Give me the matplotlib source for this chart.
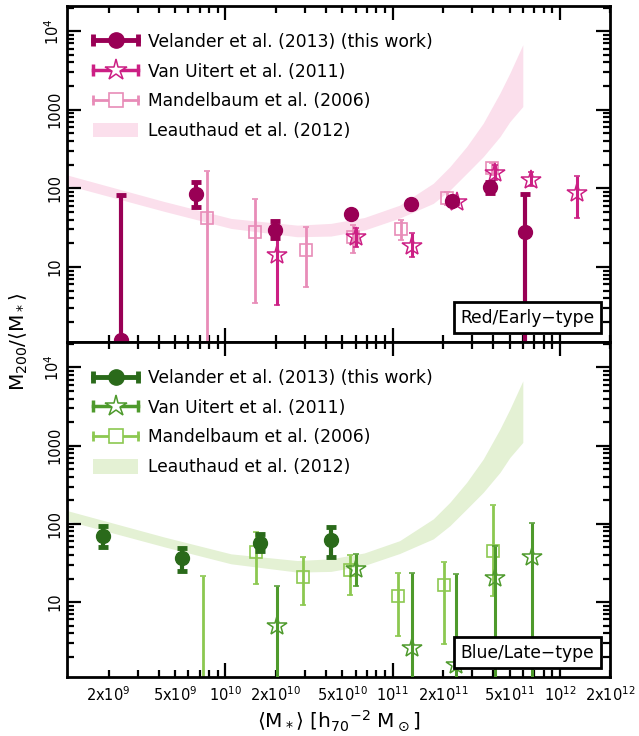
import numpy as np
import matplotlib
matplotlib.use('Agg')
import matplotlib.pyplot as plt
from matplotlib.lines import Line2D
from matplotlib.patches import Patch
from matplotlib.legend_handler import HandlerLine2D, HandlerTuple
from matplotlib.ticker import FuncFormatter, LogLocator, NullFormatter

# Leauthaud et al. (2012) band (same in both panels)
band_x = [1.13e9, 4.3e9, 1.08e10, 2.69e10, 4.27e10, 6.76e10, 1.1e11, 1.75e11,
          2.2e11, 2.77e11, 3.48e11, 4.38e11, 5.02e11, 6.0e11]
band_hi = [148, 68, 41.4, 34, 35.8, 42.5, 61, 116, 189, 340, 675, 1630, 2925, 6730]
band_lo = [110, 51, 30.9, 24.2, 24.7, 29.4, 41.8, 64.4, 95, 155, 253, 455, 706, 1100]

# ---- red / early-type ----
red_vel_x = [2.39e9, 6.64e9, 1.98e10, 5.66e10, 1.29e11, 2.25e11, 3.82e11, 6.18e11]
red_vel_y = [1.16, 84.6, 29.4, 47, 62.5, 69.5, 103, 27.9]
red_vel_lo = [0.3, 58, 23, 43, 58, 64, 86, 0.3]
red_vel_hi = [82, 119, 38.6, 51, 67, 76, 121, 84.6]

red_vu_x = [2.04e10, 6.07e10, 1.31e11, 2.42e11, 4.08e11, 6.76e11, 1.26e12]
red_vu_y = [14.1, 24.2, 18.4, 67.5, 158, 128, 86.4]
red_vu_lo = [3.3, 18, 13.4, 62, 128, 107, 41.4]
red_vu_hi = [24, 30.9, 26.7, 74, 198, 163, 144]

red_man_x = [7.73e9, 1.5e10, 3.02e10, 5.77e10, 1.12e11, 2.1e11, 3.91e11]
red_man_y = [41.4, 27.9, 16.3, 23.7, 30.3, 74.6, 180]
red_man_lo = [0.3, 3.47, 5.56, 15.1, 21.9, 61, 148]
red_man_hi = [168, 72.4, 31.8, 34, 39.5, 90.6, 208]

# ---- blue / late-type ----
blue_vel_x = [1.84e9, 5.52e9, 1.61e10, 4.27e10]
blue_vel_y = [71, 36.8, 57.3, 62.5]
blue_vel_lo = [51, 24.9, 44.8, 38.3]
blue_vel_hi = [95, 49.4, 74.5, 90.6]

blue_vu_x = [2.04e10, 6.04e10, 1.31e11, 2.39e11, 4.08e11, 6.82e11]
blue_vu_y = [4.9, 26.7, 2.62, 1.56, 20.2, 38.3]
blue_vu_lo = [0.3, 16.3, 0.3, 0.3, 0.3, 0.3]
blue_vu_hi = [16.3, 41.4, 23.4, 23, 52.9, 102]

blue_man_x = [7.38e9, 1.52e10, 2.91e10, 5.53e10, 1.08e11, 2.04e11, 3.99e11]
blue_man_y = [0.5, 43.4, 20.8, 25.4, 11.9, 16.7, 44.7]
blue_man_lo = [0.2, 17.2, 9.1, 12.4, 3.66, 2.88, 12]
blue_man_hi = [21.3, 78, 37.5, 39.5, 23.4, 33, 176]

labels = ['Velander et al. (2013) (this work)', 'Van Uitert et al. (2011)',
          'Mandelbaum et al. (2006)', 'Leauthaud et al. (2012)']

red_cols = ['#990055', '#cc1f84', '#e88cb8', '#fbdfec']
blue_cols = ['#2a6a1a', '#4e9a2c', '#8cc850', '#e4f1d4']

plt.rcParams['font.family'] = 'DejaVu Sans'
plt.rcParams['mathtext.fontset'] = 'dejavusans'

fig = plt.figure(figsize=(6.39, 7.36), dpi=100)
ax1 = fig.add_axes([0.105, 0.535, 0.85, 0.457])
ax2 = fig.add_axes([0.105, 0.080, 0.85, 0.455], sharex=ax1)


def errs(y, lo, hi):
    y = np.array(y)
    return [y - np.array(lo), np.array(hi) - y]


def panel(ax, cols, vel, vu, man, tag):
    ax.fill_between(band_x, band_lo, band_hi, color=cols[3], lw=0, zorder=1)
    ax.errorbar(man[0], man[1], yerr=errs(man[1], man[2], man[3]), fmt='s', ms=9,
                mfc='none', mec=cols[2], mew=1.2, color=cols[2], elinewidth=2,
                capsize=2.5, capthick=2, zorder=2)
    ax.errorbar(vu[0], vu[1], yerr=errs(vu[1], vu[2], vu[3]), fmt='*', ms=15,
                mfc='none', mec=cols[1], mew=1.1, color=cols[1], elinewidth=2.2,
                capsize=2.5, capthick=2.2, zorder=3)
    ax.errorbar(vel[0], vel[1], yerr=errs(vel[1], vel[2], vel[3]), fmt='o', ms=10,
                color=cols[0], elinewidth=3, capsize=3.5, capthick=3.5, zorder=4)

    cap_vel = Line2D([], [], color=cols[0], lw=3.5, marker='|', ms=9, mew=3.5)
    cap_vu = Line2D([], [], color=cols[1], lw=2.5, marker='|', ms=8, mew=2.5)
    cap_man = Line2D([], [], color=cols[2], lw=2, marker='|', ms=7, mew=2)
    m_vel = Line2D([], [], ls='none', marker='o', ms=11, color=cols[0])
    m_vu = Line2D([], [], ls='none', marker='*', ms=16, mfc='white', mec=cols[1], mew=1.1)
    m_man = Line2D([], [], ls='none', marker='s', ms=10, mfc='white', mec=cols[2], mew=1.2)
    band = Patch(facecolor=cols[3], edgecolor='none')
    hmap = {cap_vel: HandlerLine2D(numpoints=2, marker_pad=0),
            cap_vu: HandlerLine2D(numpoints=2, marker_pad=0),
            cap_man: HandlerLine2D(numpoints=2, marker_pad=0),
            tuple: HandlerTuple(ndivide=1)}
    ax.legend([(cap_vel, m_vel), (cap_vu, m_vu), (cap_man, m_man), band], labels,
              handler_map=hmap, loc='upper left', bbox_to_anchor=(0.035, 0.94),
              frameon=False, fontsize=12.3, handlelength=2.65, handleheight=0.95,
              handletextpad=0.55, labelspacing=0.68, borderaxespad=0)

    ax.text(0.971, 0.073, tag, transform=ax.transAxes, fontsize=12.3,
            ha='right', va='center', zorder=6,
            bbox=dict(boxstyle='square,pad=0.38', fc='white', ec='black', lw=2))

    ax.set_xscale('log')
    ax.set_yscale('log')
    ax.set_xlim(1.13e9, 2.0e12)
    ax.set_ylim(1.1, 2.1e4)
    ax.set_yticks([10, 100, 1000, 1e4])
    ax.set_yticklabels(['10', '100', '1000', r'10$^4$'], rotation=90, va='center')
    ax.yaxis.set_minor_locator(LogLocator(base=10, subs=np.arange(2, 10)))
    ax.yaxis.set_minor_formatter(NullFormatter())
    ax.xaxis.set_minor_locator(LogLocator(base=10, subs=np.arange(2, 10)))
    ax.tick_params(which='both', direction='in', top=True, right=True, width=1.6,
                   labelsize=10.5)
    ax.tick_params(which='major', length=10)
    ax.tick_params(which='minor', length=5)
    for s in ax.spines.values():
        s.set_linewidth(2)


panel(ax1, red_cols, (red_vel_x, red_vel_y, red_vel_lo, red_vel_hi),
      (red_vu_x, red_vu_y, red_vu_lo, red_vu_hi),
      (red_man_x, red_man_y, red_man_lo, red_man_hi), 'Red/Early\u2212type')
panel(ax2, blue_cols, (blue_vel_x, blue_vel_y, blue_vel_lo, blue_vel_hi),
      (blue_vu_x, blue_vu_y, blue_vu_lo, blue_vu_hi),
      (blue_man_x, blue_man_y, blue_man_lo, blue_man_hi), 'Blue/Late\u2212type')


def major_fmt(v, pos):
    e = int(round(np.log10(v)))
    return r'10$^{%d}$' % e


def minor_fmt(v, pos):
    e = int(np.floor(np.log10(v) + 1e-9))
    m = int(round(v / 10 ** e))
    if m in (2, 5):
        return r'%dx10$^{%d}$' % (m, e)
    return ''


ax2.xaxis.set_major_formatter(FuncFormatter(major_fmt))
ax2.xaxis.set_minor_formatter(FuncFormatter(minor_fmt))
ax2.tick_params(axis='x', which='both', pad=6)
plt.setp(ax1.get_xticklabels(which='both'), visible=False)

ax2.set_xlabel(r'$\langle$M$_*\rangle$ [h$_{70}$$^{-2}$ M$_\odot$]', fontsize=14.5, labelpad=3)
fig.text(0.03, 0.535, r'M$_{200}$/$\langle$M$_*\rangle$', rotation=90,
         fontsize=14.5, ha='center', va='center')

fig.savefig('out.png', dpi=100)
